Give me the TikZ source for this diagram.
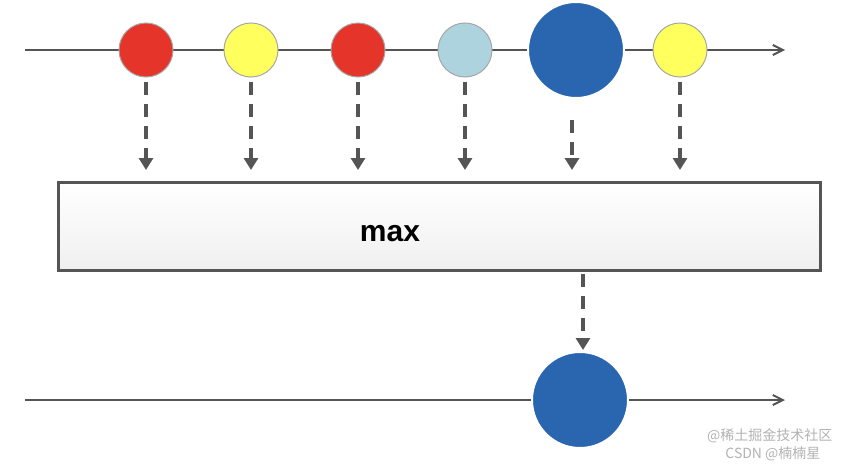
\documentclass[tikz,border=0pt]{standalone}
\usepackage{fontspec}
\setmainfont{Liberation Sans}
\newfontfamily\cjk{Noto Sans CJK SC}
\usetikzlibrary{arrows.meta}
\definecolor{cred}{HTML}{E5352B}
\definecolor{cyel}{HTML}{FFFF5E}
\definecolor{clb}{HTML}{ADD3DE}
\definecolor{cblue}{HTML}{2A66B0}
\definecolor{cline}{HTML}{555555}
\begin{document}
\begin{tikzpicture}[x=1pt,y=-1pt,
  tl/.style={draw=cline,line width=2pt,-{Straight Barb[length=10pt,width=10pt]}},
  da/.style={draw=cline,line width=3.5pt,dash pattern=on 13pt off 9pt,-{Triangle[length=12pt,width=14pt]}},
  ball/.style={circle,draw=gray!70,line width=1pt,inner sep=0pt},
  small/.style={ball,minimum size=54pt},
  big/.style={ball,minimum size=96pt,draw=white,line width=2pt}]
\useasboundingbox (0,0) rectangle (848,466);
\coordinate (ts) at (25,50); \coordinate (te) at (785,50);
\coordinate (bs) at (25,400); \coordinate (be) at (785,400);
\draw[tl] (ts) -- (te);
\draw[tl] (bs) -- (be);
\node[small,fill=cred] (c1) at (146,50) {};
\node[small,fill=cyel] (c2) at (251,50) {};
\node[small,fill=cred] (c3) at (358,50) {};
\node[small,fill=clb] (c4) at (465,50) {};
\node[big,fill=cblue] (c5) at (576,50) {};
\node[small,fill=cyel] (c6) at (680,50) {};
\node[draw=cline,line width=3pt,top color=white,bottom color=gray!12,minimum width=762pt,minimum height=88pt,inner sep=0pt] (box) at (439,226) {};
\node[font=\bfseries\fontsize{30}{30}\selectfont] (lbl) at (390,234) {max};
\foreach \i/\x/\y in {1/146/82,2/251/82,3/358/82,4/465/82,5/572/120,6/680/82}{
  \coordinate (t\i) at (\x,170);
  \draw[da] (\x,\y) -- (t\i);
}
\coordinate (ob) at (583,350);
\draw[da] (583,274) -- (ob);
\node[big,fill=cblue] (out) at (580,400) {};
\node[font=\cjk\fontsize{14}{14}\selectfont,text=gray!60,anchor=east] (w1) at (836,436) {@稀土掘金技术社区};
\node[font=\cjk\fontsize{14}{14}\selectfont,text=gray!60,anchor=east] (w2) at (824,454) {CSDN @楠楠星};
\end{tikzpicture}
\end{document}
